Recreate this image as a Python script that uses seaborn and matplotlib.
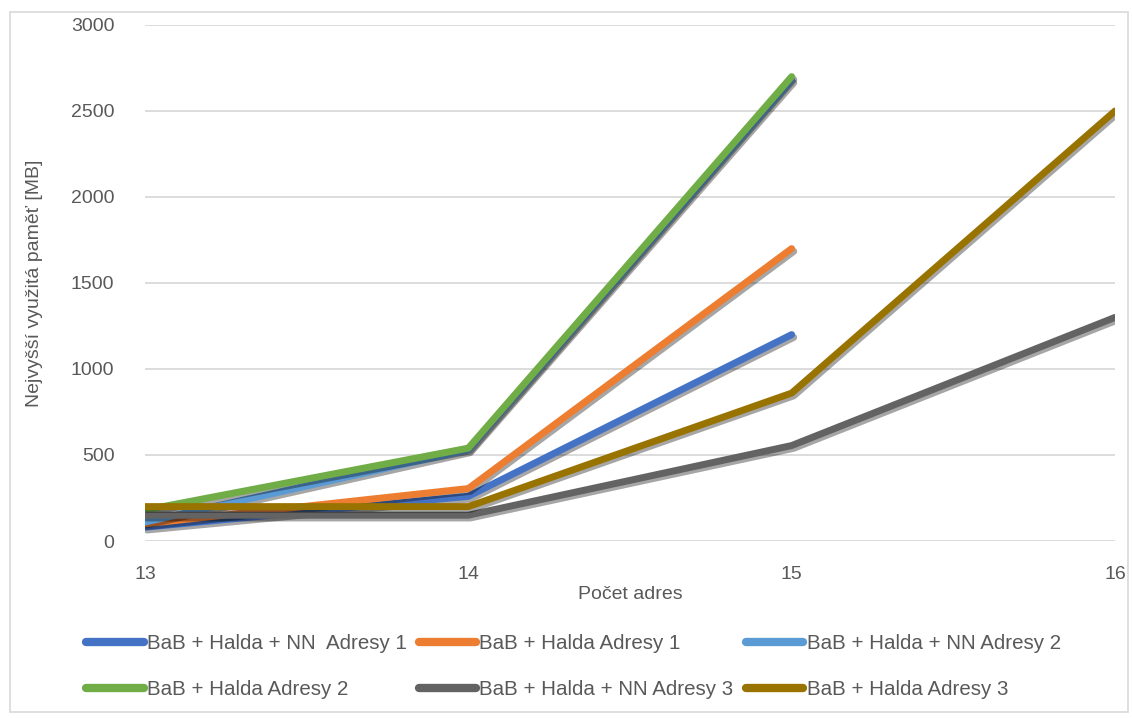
import numpy as np
import pandas as pd
import seaborn as sns
import matplotlib.pyplot as plt
import matplotlib.patheffects as pe
from matplotlib.patches import Rectangle

x_vals = [13, 14, 15, 16]
series_names = [
    "BaB + Halda + NN  Adresy 1",
    "BaB + Halda Adresy 1",
    "BaB + Halda + NN Adresy 2",
    "BaB + Halda Adresy 2",
    "BaB + Halda + NN Adresy 3",
    "BaB + Halda Adresy 3",
]
nn_adresy1 = [80, 260, 1200, np.nan]
halda_adresy1 = [100, 305, 1700, np.nan]
nn_adresy2 = [110, 530, 2680, np.nan]
halda_adresy2 = [180, 540, 2700, np.nan]
nn_adresy3 = [150, 150, 555, 1300]
halda_adresy3 = [200, 200, 860, 2500]
colors = ["#4472C4", "#ED7D31", "#5B9BD5", "#70AD47", "#636363", "#997300"]

all_values = [nn_adresy1, halda_adresy1, nn_adresy2, halda_adresy2, nn_adresy3, halda_adresy3]
rows = []
for name, vals in zip(series_names, all_values):
    for xv, yv in zip(x_vals, vals):
        if not np.isnan(yv):
            rows.append({"x": xv, "y": yv, "series": name})
df = pd.DataFrame(rows)

sns.set_theme(style="white")
plt.rcParams['font.family'] = ['Liberation Sans', 'DejaVu Sans']
text_color = "#595959"

fig = plt.figure(figsize=(11.32, 7.18), dpi=100)
ax = fig.add_axes([145/1132, 1 - 541/718, (1115-145)/1132, (541-25)/718])

sns.lineplot(data=df, x="x", y="y", hue="series", hue_order=series_names,
             palette=colors, linewidth=5, ax=ax, sort=False,
             solid_capstyle="round", solid_joinstyle="round")
for line in ax.get_lines():
    line.set_path_effects([pe.SimpleLineShadow(offset=(1.5, -2), shadow_color="black", alpha=0.35), pe.Normal()])

ax.set_xlim(13, 16)
ax.set_ylim(0, 3000)
ax.set_xticks(x_vals)
ax.set_xticklabels([str(v) for v in x_vals])
ax.set_yticks(range(0, 3001, 500))
ax.yaxis.grid(True, color="#D9D9D9", linewidth=1.3)
ax.set_axisbelow(True)
for s in ax.spines.values():
    s.set_visible(False)
ax.tick_params(axis="both", length=0, labelsize=14, labelcolor=text_color)
ax.tick_params(axis="x", pad=18)
ax.tick_params(axis="y", pad=22)
ax.set_xlabel("Počet adres", fontsize=14, color=text_color, labelpad=2)
ax.set_ylabel("Nejvyšší využitá paměť [MB]", fontsize=14, color=text_color, labelpad=20)

handles, labels = ax.get_legend_handles_labels()
ax.get_legend().remove()
for h in handles:
    h.set_linewidth(6)
    h.set_path_effects([])
order = [0, 3, 1, 4, 2, 5]
fig.legend([handles[i] for i in order], [labels[i] for i in order],
           loc="upper left", bbox_to_anchor=(86/1132, 1 - 634/718), ncol=3,
           frameon=False, fontsize=14.8, labelcolor=text_color,
           handlelength=2.8, handletextpad=0.15, columnspacing=0.6,
           labelspacing=1.3, borderpad=0, borderaxespad=0)

fig.patches.append(Rectangle((10/1132, 1 - 712/718), 1118/1132, 700/718,
                             transform=fig.transFigure, fill=False,
                             edgecolor="#D9D9D9", linewidth=1.2))

fig.savefig("out.png", dpi=100)
